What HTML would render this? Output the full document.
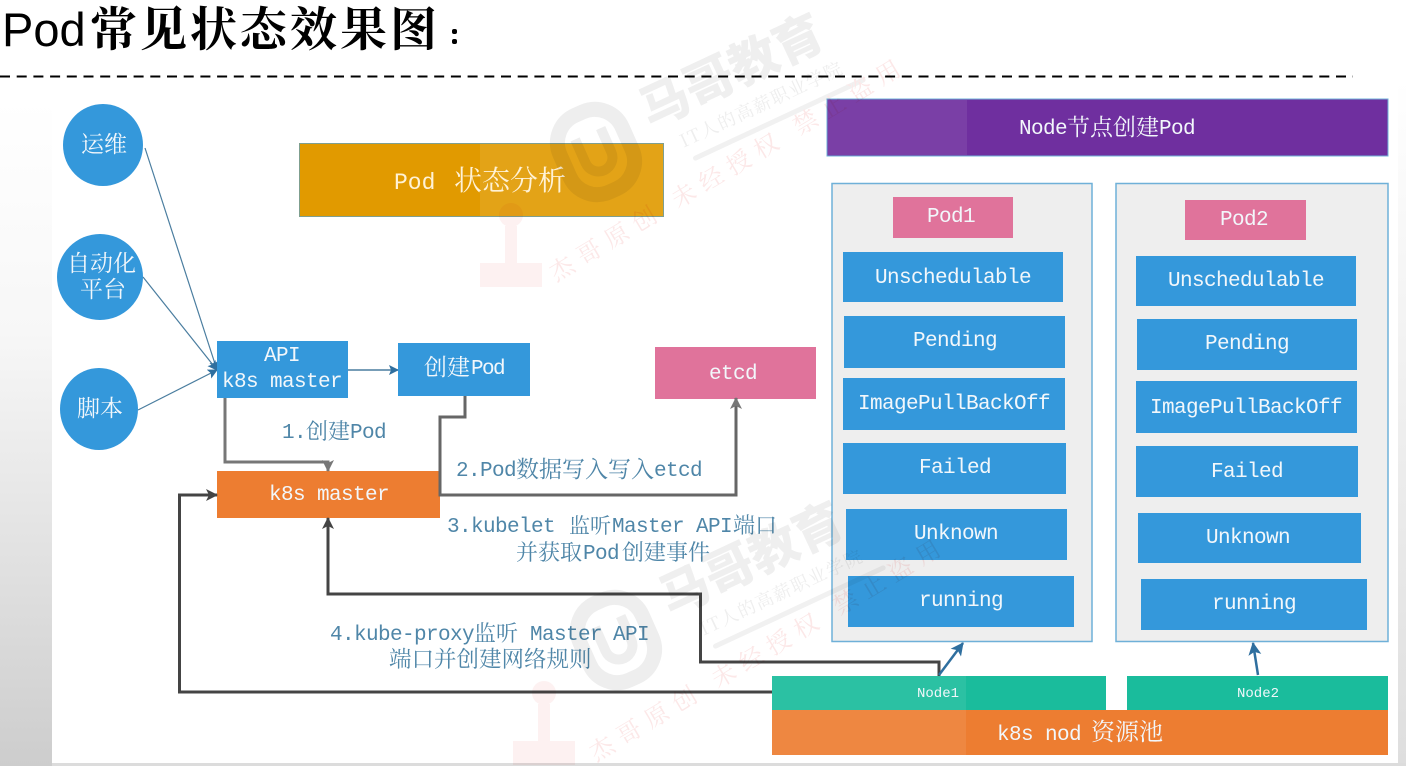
<!DOCTYPE html>
<html lang="zh">
<head>
<meta charset="utf-8">
<title>Pod常见状态效果图</title>
<style>
html,body{margin:0;padding:0;background:#fff}
svg{display:block}
text{font-family:"Liberation Mono","Noto Serif CJK SC",monospace;font-size:21px;letter-spacing:-.6px;fill:#f2f7fb;white-space:pre}
.c{font-family:"Noto Serif CJK SC","Liberation Serif",serif;font-size:23px;letter-spacing:0}
.b text{fill:#4f86a8}
.b .c{font-size:22px}
.m{text-anchor:middle}
.wm{mix-blend-mode:multiply}
</style>
</head>
<body>
<svg width="1406" height="766" viewBox="0 0 1406 766" xmlns="http://www.w3.org/2000/svg">
<defs>
<linearGradient id="lv" x1="0" y1="0" x2="0" y2="1">
<stop offset="0" stop-color="#fff"/>
<stop offset=".35" stop-color="#f7f7f7"/>
<stop offset="1" stop-color="#cdcdcd"/>
</linearGradient>
<linearGradient id="rv" x1="0" y1="0" x2="0" y2="1">
<stop offset="0" stop-color="#fff"/>
<stop offset="1" stop-color="#dedede"/>
</linearGradient>
<marker id="ad" markerWidth="12" markerHeight="12" refX="11" refY="6" orient="auto" markerUnits="userSpaceOnUse"><path d="M0 0L12 6L0 12L3 6z" fill="#444"/></marker>
<marker id="agr" markerWidth="12" markerHeight="12" refX="11" refY="6" orient="auto" markerUnits="userSpaceOnUse"><path d="M0 0L12 6L0 12L3 6z" fill="#777"/></marker>
<marker id="ab" markerWidth="10" markerHeight="10" refX="9" refY="5" orient="auto" markerUnits="userSpaceOnUse"><path d="M0 0L10 5L0 10L2 5z" fill="#2f6f9f"/></marker>
<marker id="abl" markerWidth="13" markerHeight="13" refX="12" refY="6.5" orient="auto" markerUnits="userSpaceOnUse"><path d="M0 0L13 6.5L0 13L3 6.5z" fill="#2f6f9f"/></marker>
<g id="wmLogo">
<g transform="rotate(-25 650 128)">
<text x="650" y="128" style="font-family:'Noto Sans CJK SC',sans-serif;font-weight:900;font-size:49px;letter-spacing:0;fill:#efefef">马哥教育</text>
<text x="672" y="160" style="font-family:'Noto Serif CJK SC',serif;font-size:18px;letter-spacing:1.500px;fill:#eeeeee">IT人的高薪职业学院</text>
<rect x="676" y="172" width="190" height="5" rx="2.500" fill="#f1f1f1"/>
</g>
<g transform="rotate(-24 596 152)">
<rect x="562" y="110" width="68" height="84" rx="30" fill="none" stroke="#eeeeee" stroke-width="15"/>
<path d="M582 132v26a14 14 0 0 0 28 0v-26" fill="none" stroke="#eeeeee" stroke-width="10"/>
</g>
</g>
<g id="wmStamp" fill="#fdf1f1">
<circle cx="511" cy="215" r="12"/>
<rect x="505" y="226" width="12" height="37"/>
<rect x="480" y="263" width="62" height="24"/>
</g>
<g id="wmRed">
<g transform="rotate(-31 556 282)">
<text x="556" y="282" style="font-family:'Noto Serif CJK SC',serif;font-size:24px;letter-spacing:8px;fill:#fce8e8">杰哥原创 未经授权 禁止盗用</text>
</g>
</g>
</defs>

<rect width="1406" height="766" fill="#fff"/>
<!-- page side strips -->
<rect x="0" y="100" width="52" height="666" fill="url(#lv)"/>
<rect x="1398" y="80" width="8" height="686" fill="url(#rv)"/>
<rect x="52" y="763" width="1354" height="3" fill="#dcdcdc"/>

<!-- title -->
<text x="2" y="46" style="font-family:'Liberation Sans',sans-serif;font-size:47px;letter-spacing:0;fill:#000">Pod</text>
<text x="90" y="46" style="font-family:'Noto Serif CJK SC',serif;font-size:47px;font-weight:700;fill:#000;letter-spacing:3px">常见状态效果图</text>
<rect x="452" y="29" width="5" height="5" rx="2" fill="#000"/>
<rect x="452" y="39" width="5" height="5" rx="2" fill="#000"/>
<line x1="0" y1="76.500" x2="1353" y2="76.500" stroke="#000" stroke-width="2" stroke-dasharray="10 6.700"/>

<!-- thin connectors -->
<g fill="none" stroke="#4a7d9f" stroke-width="1.200">
<line x1="145" y1="148" x2="217" y2="370" marker-end="url(#ab)"/>
<line x1="143" y1="277" x2="217" y2="370" marker-end="url(#ab)"/>
<line x1="138" y1="410" x2="217" y2="370" marker-end="url(#ab)"/>
<line x1="348" y1="370" x2="398" y2="370" stroke-width="1.600" marker-end="url(#ab)"/>
</g>

<!-- circles -->
<g fill="#3498db">
<ellipse cx="103" cy="145" rx="40" ry="41"/>
<ellipse cx="100" cy="277" rx="43" ry="43"/>
<ellipse cx="99" cy="409" rx="39" ry="41"/>
</g>
<text class="c" x="81" y="152">运维</text>
<text class="c" x="67" y="271">自动化</text>
<text class="c" x="80" y="297">平台</text>
<text class="c" x="77" y="416">脚本</text>

<!-- center boxes -->
<rect x="299.500" y="143.500" width="364" height="73" fill="#e19a00" stroke="#7f9f8f" stroke-width="1"/>
<rect x="480" y="144" width="183" height="72" fill="#fff" opacity=".09"/>
<text x="394" y="189" style="font-size:23px;letter-spacing:0;fill:#fff2d6">Pod</text>
<text class="c" x="454" y="190" style="font-size:28px;fill:#fff2d6">状态分析</text>

<rect x="217" y="341" width="131" height="57" fill="#3498db"/>
<text x="264" y="361">API</text>
<text x="222" y="387">k8s master</text>

<rect x="398" y="343" width="132" height="53" fill="#3498db"/>
<text class="c" x="424" y="375">创建</text><text x="471" y="374" style="letter-spacing:-1.600px">Pod</text>

<rect x="655" y="347" width="161" height="52" fill="#e0739b"/>
<text x="709" y="379">etcd</text>

<rect x="217" y="471" width="223" height="47" fill="#ed7d31"/>
<text x="269" y="500">k8s master</text>

<!-- thick connectors -->
<g fill="none" stroke-width="3">
<path d="M225 398V462H328V471" stroke="#777" marker-end="url(#agr)"/>
<path d="M465 396V417H440V495H736V398" stroke="#666" marker-end="url(#agr)"/>
<path d="M772 692H179.500V495H217" stroke="#444" marker-end="url(#ad)"/>
<path d="M939 676V662H700.500V594H328V518" stroke="#444" marker-end="url(#ad)"/>
</g>

<!-- labels -->
<g class="b">
<text x="282" y="438">1.</text><text class="c" x="306" y="439">创建</text><text x="350" y="438">Pod</text>
<text x="456" y="476">2.</text><text x="480" y="476">Pod</text><text class="c" x="516" y="477" style="font-size:23px">数据写入写入</text><text x="654" y="476">etcd</text>
<text x="447" y="532">3.</text><text x="471" y="532">kubelet</text><text class="c" x="569" y="533" style="font-size:21px">监听</text><text x="612" y="532">Master</text><text x="696" y="532">API</text><text class="c" x="733" y="533">端口</text>
<text class="c" x="516" y="560">并获取</text><text x="583" y="559">Pod</text><text class="c" x="622" y="560">创建事件</text>
<text x="330" y="640">4.</text><text x="354" y="640">kube-proxy</text><text class="c" x="474" y="641">监听</text><text x="530" y="640">Master</text><text x="613" y="640">API</text>
<text class="c" x="389" y="667" style="font-size:22.500px">端口并创建网络规则</text>
</g>

<!-- right side -->
<rect x="827" y="99" width="561" height="57" fill="#6f2f9f" stroke="#6fb0d8" stroke-width="1"/>
<rect x="828" y="100" width="139" height="55" fill="#fff" opacity=".08"/>
<text x="1019" y="134">Node</text><text class="c" x="1067" y="135">节点创建</text><text x="1159" y="134">Pod</text>

<rect x="832" y="183.500" width="260" height="458" fill="#eeeeee" stroke="#6fb0d8" stroke-width="1.500"/>
<rect x="1116" y="183.500" width="272" height="458" fill="#eeeeee" stroke="#6fb0d8" stroke-width="1.500"/>

<rect x="893" y="197" width="120" height="41" fill="#e0739b"/>
<text class="m" x="951" y="222">Pod1</text>
<rect x="1185" y="200" width="121" height="40" fill="#e0739b"/>
<text class="m" x="1244" y="225">Pod2</text>

<g fill="#3498db">
<rect x="843" y="252" width="220" height="50"/>
<rect x="844" y="316" width="221" height="52"/>
<rect x="843" y="378" width="222" height="52"/>
<rect x="843" y="443" width="223" height="51"/>
<rect x="846" y="509" width="221" height="51"/>
<rect x="848" y="576" width="226" height="51"/>
<rect x="1136" y="256" width="220" height="50"/>
<rect x="1137" y="319" width="220" height="51"/>
<rect x="1136" y="381" width="221" height="52"/>
<rect x="1136" y="446" width="222" height="51"/>
<rect x="1138" y="513" width="223" height="50"/>
<rect x="1141" y="579" width="226" height="51"/>
</g>
<text class="m" x="953" y="283">Unschedulable</text>
<text class="m" x="955" y="346">Pending</text>
<text class="m" x="954" y="409">ImagePullBackOff</text>
<text class="m" x="955" y="473">Failed</text>
<text class="m" x="956" y="539">Unknown</text>
<text class="m" x="961" y="606">running</text>
<text class="m" x="1246" y="286">Unschedulable</text>
<text class="m" x="1247" y="349">Pending</text>
<text class="m" x="1246" y="413">ImagePullBackOff</text>
<text class="m" x="1247" y="477">Failed</text>
<text class="m" x="1248" y="543">Unknown</text>
<text class="m" x="1254" y="609">running</text>

<!-- node arrows -->
<g fill="none" stroke="#2f6f9f" stroke-width="2.500">
<line x1="939" y1="675" x2="963" y2="643" marker-end="url(#abl)"/>
<line x1="1258" y1="675" x2="1253" y2="643" marker-end="url(#abl)"/>
</g>

<rect x="772" y="676" width="334" height="34" fill="#1abc9c"/>
<rect x="1127" y="676" width="261" height="34" fill="#1abc9c"/>
<rect x="772" y="676" width="194" height="34" fill="#fff" opacity=".08"/>
<text class="m" x="938" y="697" style="font-size:14px;letter-spacing:0">Node1</text>
<text class="m" x="1258" y="697" style="font-size:14px;letter-spacing:0">Node2</text>
<rect x="772" y="710" width="616" height="45" fill="#ed7d31"/>
<rect x="772" y="710" width="194" height="45" fill="#fff" opacity=".08"/>
<text x="997" y="740">k8s nod</text><text class="c" x="1091" y="740" style="font-size:24px">资源池</text>

<!-- watermark, multiplied over everything -->
<g class="wm">
<use href="#wmLogo"/>
<use href="#wmStamp"/>
<use href="#wmRed"/>
<use href="#wmLogo" transform="translate(20 488)"/>
<use href="#wmStamp" transform="translate(33 478)"/>
<use href="#wmRed" transform="translate(40 480)"/>
</g>
</svg>
</body>
</html>
